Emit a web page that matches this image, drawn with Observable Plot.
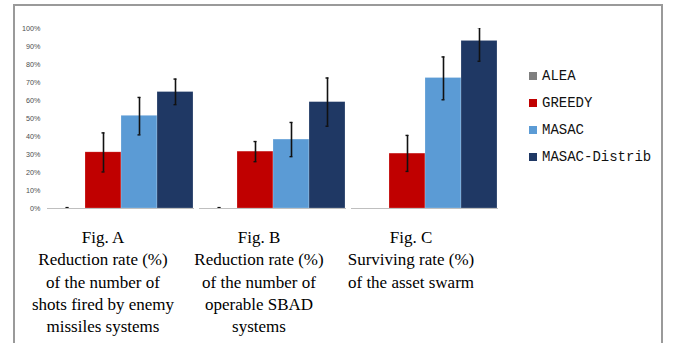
<!DOCTYPE html>
<html>
<head>
<meta charset="utf-8">
<script src="https://cdn.jsdelivr.net/npm/d3@7"></script>
<script src="https://cdn.jsdelivr.net/npm/@observablehq/plot@0.6"></script>
<style>
  html, body { margin: 0; padding: 0; background: #fff; }
  #wrap { position: relative; width: 673px; height: 343px; overflow: hidden; background: #fff; }
  #frame { position: absolute; left: 13px; top: 4px; width: 650px; height: 400px; border: 2px solid #9a9a9a; box-sizing: border-box; }
  #chart { position: absolute; left: 0; top: 0; }
  #legend { position: absolute; left: 529px; top: 0; font-family: "Liberation Mono", "DejaVu Sans Mono", monospace; font-size: 14px; color: #111; }
  .li { position: absolute; left: 0; white-space: nowrap; display: flex; align-items: center; height: 16px; }
  .sw { width: 8px; height: 8px; margin-right: 5px; display: inline-block; }
  .cap { position: absolute; font-family: "Liberation Serif", "Times New Roman", serif; font-size: 17px; line-height: 22.3px; text-align: center; color: #000; white-space: nowrap; transform: translateX(-50%); }
</style>
</head>
<body>
<div id="wrap">
  <div id="frame"></div>
  <div id="chart"></div>
  <div id="legend"></div>
</div>
<script>
// ---- data ----
const figures = ["Fig. A", "Fig. B", "Fig. C"];
const methods = ["ALEA", "GREEDY", "MASAC", "MASAC-Distrib"];
const colors = ["#7f7f7f", "#c00000", "#5b9bd5", "#1f3864"];
// mean values (%) per figure, in method order
const valuesA = [0, 31.2, 51.5, 64.7];
const valuesB = [0, 31.6, 38.3, 59.1];
const valuesC = [0, 30.5, 72.5, 93.1];
// error bar low / high (%)
const lowA = [0, 20.3, 40.9, 57.7];
const highA = [0.5, 42.0, 61.7, 71.9];
const lowB = [0, 26.0, 28.8, 45.7];
const highB = [0.5, 37.2, 47.8, 72.5];
const lowC = [null, 20.6, 60.4, 81.8];
const highC = [null, 40.6, 84.2, 100.5];
const yTicks = [0, 10, 20, 30, 40, 50, 60, 70, 80, 90, 100];
const captions = [
  ["Fig. A", "Reduction rate (%)", "of the number of", "shots fired by enemy", "missiles systems"],
  ["Fig. B", "Reduction rate (%)", "of the number of", "operable SBAD", "systems"],
  ["Fig. C", "Surviving rate (%)", "of the asset swarm"]
];

// ---- table ----
const vals = [valuesA, valuesB, valuesC], lows = [lowA, lowB, lowC], highs = [highA, highB, highC];
const rows = [];
figures.forEach((f, i) => methods.forEach((m, j) => {
  rows.push({fig: f, method: m, value: vals[i][j], low: lows[i][j], high: highs[i][j]});
}));
const errRows = rows.filter(d => d.low != null && d.high != null);

const chart = Plot.plot({
  width: 510,
  height: 216,
  marginLeft: 47,
  marginRight: 12,
  marginTop: 28,
  marginBottom: 8,
  style: {fontFamily: "Liberation Sans, Arial, sans-serif", fontSize: "7px", background: "transparent", overflow: "visible"},
  fx: {domain: figures, paddingInner: 0.035, paddingOuter: 0, axis: null, label: null},
  x: {domain: methods, padding: 0, axis: null},
  y: {domain: [0, 100], ticks: yTicks, axis: null},
  color: {domain: methods, range: colors},
  marks: [
    Plot.gridY(yTicks.filter(t => t > 0), {fx: "fig", stroke: "#d9d9d9", strokeOpacity: 1, strokeWidth: 1.2}),
    Plot.axisY({ticks: yTicks, tickSize: 0, tickPadding: 7, tickFormat: d => d + "%", fill: "#4d4d4d", fontSize: 7.2, facetAnchor: "left"}),
    Plot.barY(rows, {fx: "fig", x: "method", y: "value", fill: "method", stroke: "#ffffff", strokeOpacity: 0.35, strokeWidth: 0.6}),
    Plot.ruleY([0], {stroke: "#bfbfbf", strokeWidth: 1.2}),
    Plot.ruleX(errRows, {fx: "fig", x: "method", y1: "low", y2: "high", stroke: "#111", strokeWidth: 1.6, clip: true}),
    Plot.tickY(errRows, {fx: "fig", x: "method", y: "low", stroke: "#111", strokeWidth: 1.4, insetLeft: 16.5, insetRight: 16.5, clip: true}),
    Plot.tickY(errRows, {fx: "fig", x: "method", y: "high", stroke: "#111", strokeWidth: 1.4, insetLeft: 16.5, insetRight: 16.5, clip: true})
  ]
});
document.getElementById("chart").appendChild(chart);

// legend
const lg = document.getElementById("legend");
const legendY = [76, 103, 130, 157];
methods.forEach((m, i) => {
  const el = document.createElement("div");
  el.className = "li";
  el.style.top = (legendY[i] - 8) + "px";
  el.innerHTML = `<span class="sw" style="background:${colors[i]}"></span><span>${m}</span>`;
  lg.appendChild(el);
});

// captions
const capX = [103, 259, 411];
const wrap = document.getElementById("wrap");
captions.forEach((lines, i) => {
  const el = document.createElement("div");
  el.className = "cap";
  el.style.left = capX[i] + "px";
  el.style.top = "227px";
  el.innerHTML = lines.join("<br>");
  wrap.appendChild(el);
});
</script>
</body>
</html>
